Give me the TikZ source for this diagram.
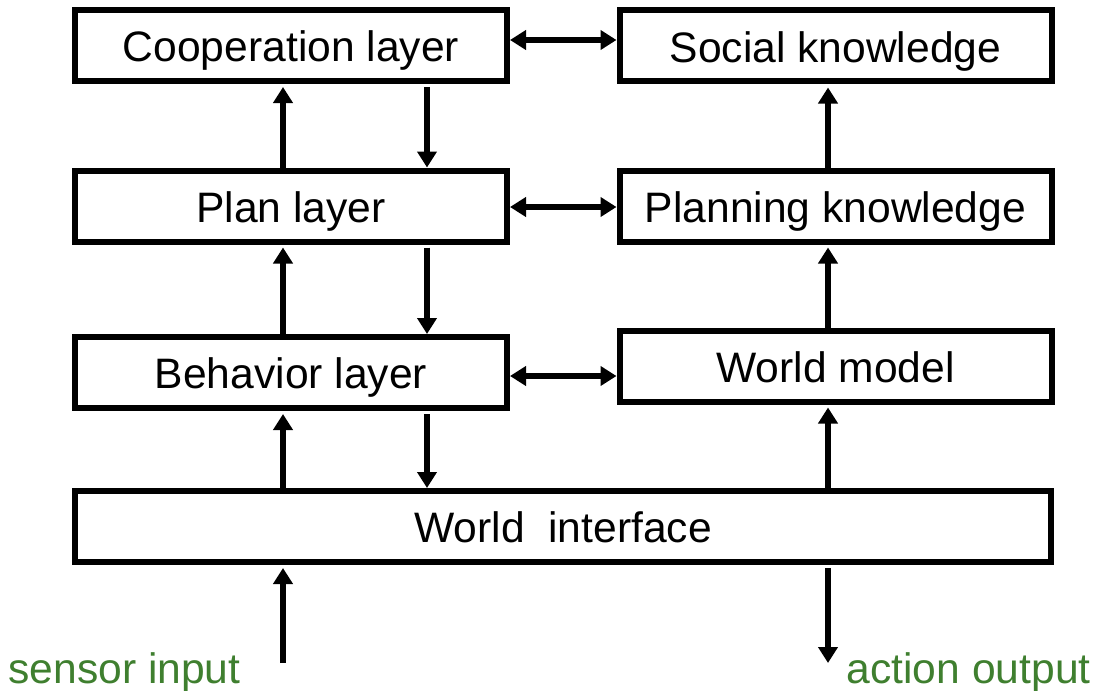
\documentclass[tikz,border=0pt]{standalone}
\usepackage{fontspec}
\setmainfont{Liberation Sans}
\usepackage{xcolor}
\usetikzlibrary{arrows.meta,positioning}
\definecolor{iogreen}{HTML}{3F7F2F}
\begin{document}
\begin{tikzpicture}[
  x=0.5pt, y=-0.5pt,
  font=\fontsize{21.3}{25}\selectfont,
  box/.style={draw, line width=3pt, inner sep=0pt, text height=16pt, text depth=0pt, minimum width=216pt, minimum height=35.5pt},
  arrow/.style={-{Triangle[length=8pt,width=9.5pt]}, line width=2.6pt},
  twoway/.style={{Triangle[length=8pt,width=9.5pt]}-{Triangle[length=8pt,width=9.5pt]}, line width=2.6pt},
  iolabel/.style={text=iogreen, inner sep=0pt}
]
\useasboundingbox (0,0) rectangle (1095,690);
\node[box] (coop) at (291,45.5) {Cooperation layer};
\node[box] (plan) at (291,206) {Plan layer};
\node[box] (behav) at (291,372.5) {Behavior layer};
\node[box] (social) at (835.5,46) {Social knowledge};
\node[box] (plank) at (835.5,206) {Planning knowledge};
\node[box] (wmodel) at (835.5,366) {World model};
\node[box, minimum width=488pt] (wiface) at (563,526.5) {World\ \ interface};
\node[iolabel, anchor=base west] (sensor) at (8,683) {sensor input};
\node[iolabel, anchor=base east] (action) at (1091,683) {action output};
% columns of the vertical arrows
\coordinate (upx) at (283,0);
\coordinate (downx) at (427,0);
\coordinate (rightx) at (828,0);
\coordinate (sensorin) at (283,663);
\coordinate (actionout) at (828,663);
% up and down between the layers
\draw[arrow, shorten >=1.5pt] (plan.north -| upx) -- (coop.south -| upx);
\draw[arrow, shorten <=1.5pt] (coop.south -| downx) -- (plan.north -| downx);
\draw[arrow, shorten >=1.5pt] (behav.north -| upx) -- (plan.south -| upx);
\draw[arrow, shorten <=1.5pt] (plan.south -| downx) -- (behav.north -| downx);
\draw[arrow, shorten >=1.5pt] (wiface.north -| upx) -- (behav.south -| upx);
\draw[arrow, shorten <=1.5pt] (behav.south -| downx) -- (wiface.north -| downx);
% knowledge column
\draw[arrow, shorten >=1.5pt] (wiface.north -| rightx) -- (wmodel.south -| rightx);
\draw[arrow, shorten >=1.5pt] (wmodel.north -| rightx) -- (plank.south -| rightx);
\draw[arrow, shorten >=1.5pt] (plank.north -| rightx) -- (social.south -| rightx);
% layer <-> knowledge
\draw[twoway] (coop.east |- 0,40) -- (social.west |- 0,40);
\draw[twoway] (plan.east |- 0,207) -- (plank.west |- 0,207);
\draw[twoway] (behav.east |- 0,376) -- (wmodel.west |- 0,376);
% sensor input and action output
\draw[arrow, shorten >=1.5pt] (sensorin) -- (wiface.south -| sensorin);
\draw[arrow, shorten <=1.5pt] (wiface.south -| actionout) -- (actionout);
\end{tikzpicture}
\end{document}
